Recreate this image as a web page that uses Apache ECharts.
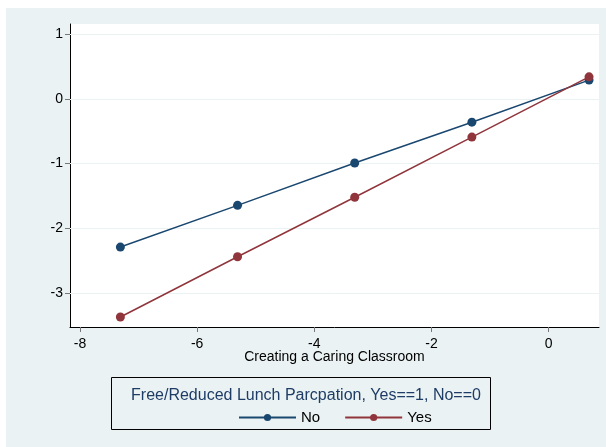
<!DOCTYPE html>
<html>
<head>
<meta charset="utf-8">
<script src="https://cdn.jsdelivr.net/npm/echarts@6/dist/echarts.min.js"></script>
<style>
html,body{margin:0;padding:0;background:#ffffff;}
#bg{position:absolute;left:6px;top:8px;width:600px;height:439px;background:#eaf2f3;}
#chart{position:absolute;left:0;top:0;width:606px;height:447px;}
</style>
</head>
<body>
<div id="bg"></div>
<div id="chart"></div>
<script>
// Data
const xValues = [-7.31, -5.31, -3.31, -1.31, 0.69];
const noValues = [-2.29, -1.645, -0.99, -0.36, 0.29];
const yesValues = [-3.37, -2.44, -1.52, -0.59, 0.34];
const xTicks = [-8, -6, -4, -2, 0];
const yTicks = [-3, -2, -1, 0, 1];
const seriesNames = ['No', 'Yes'];
const xTitle = 'Creating a Caring Classroom';
const legendTitle = 'Free/Reduced Lunch Parcpation, Yes==1, No==0';

const FONT = '"Liberation Sans", Arial, sans-serif';
const BLUE = '#1a476f';
const RED = '#90353b';

const chart = echarts.init(document.getElementById('chart'), null, {renderer: 'canvas'});

function pairs(ys) { return xValues.map((x, i) => [x, ys[i]]); }

const option = {
  backgroundColor: 'transparent',
  animation: false,
  textStyle: {fontFamily: FONT},
  grid: {left: 70, right: 7, top: 24, bottom: 120, show: true, backgroundColor: '#ffffff', borderWidth: 0},
  title: {
    text: legendTitle,
    left: 301, top: 383, textAlign: 'center',
    textStyle: {fontFamily: FONT, fontSize: 16, fontWeight: 'normal', color: '#1e3c66'}
  },
  legend: {
    data: seriesNames,
    left: 233, top: 405,
    itemWidth: 57, itemHeight: 9, itemGap: 24,
    textStyle: {fontFamily: FONT, fontSize: 15, color: '#000'}
  },
  graphic: [{
    type: 'rect', z: 100,
    shape: {x: 111.5, y: 377.5, width: 379, height: 52},
    style: {fill: 'none', stroke: '#000', lineWidth: 1}
  }],
  xAxis: {
    type: 'value', min: -8.17, max: 0.86,
    name: xTitle, nameLocation: 'middle', nameGap: 23, nameMoveOverlap: false,
    nameTextStyle: {fontFamily: FONT, fontSize: 14, color: '#000'},
    axisLine: {show: true, onZero: false, lineStyle: {color: '#000', width: 1}},
    axisTick: {show: true, customValues: xTicks, length: 5, lineStyle: {color: '#777'}},
    axisLabel: {customValues: xTicks, fontFamily: FONT, fontSize: 14, color: '#000', margin: 10},
    splitLine: {show: false}
  },
  yAxis: {
    type: 'value', min: -3.525, max: 1.157,
    axisLine: {show: true, onZero: false, lineStyle: {color: '#000', width: 1}},
    axisTick: {show: true, customValues: yTicks, length: 5, lineStyle: {color: '#777'}},
    axisLabel: {customValues: yTicks, fontFamily: FONT, fontSize: 14, color: '#000', margin: 7},
    splitLine: {show: false}
  },
  series: [
    {
      name: seriesNames[0], type: 'line', data: pairs(noValues),
      symbol: 'circle', symbolSize: 9,
      itemStyle: {color: BLUE}, lineStyle: {color: BLUE, width: 1.5},
      z: 3,
      markLine: {
        silent: true, symbol: 'none', z: 1,
        label: {show: false},
        lineStyle: {color: '#eaf2f3', width: 1, type: 'solid'},
        data: yTicks.map(v => ({yAxis: v}))
      }
    },
    {
      name: seriesNames[1], type: 'line', data: pairs(yesValues),
      symbol: 'circle', symbolSize: 9,
      itemStyle: {color: RED}, lineStyle: {color: RED, width: 1.5},
      z: 4
    }
  ]
};
chart.setOption(option);
</script>
</body>
</html>
